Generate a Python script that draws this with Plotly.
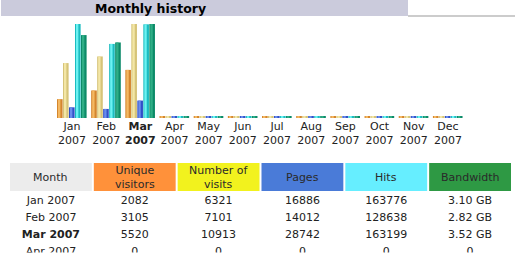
import plotly.graph_objects as go

# ---------------- data ----------------
months = ["Jan", "Feb", "Mar", "Apr", "May", "Jun", "Jul", "Aug", "Sep", "Oct", "Nov", "Dec"]
year = "2007"
current_month = "Mar"
unique_visitors = [2082, 3105, 5520, 0, 0, 0, 0, 0, 0, 0, 0, 0]
visits = [6321, 7101, 10913, 0, 0, 0, 0, 0, 0, 0, 0, 0]
pages = [16886, 14012, 28742, 0, 0, 0, 0, 0, 0, 0, 0, 0]
hits = [163776, 128638, 163199, 0, 0, 0, 0, 0, 0, 0, 0, 0]
bandwidth_gb = [3.10, 2.82, 3.52, 0, 0, 0, 0, 0, 0, 0, 0, 0]
table_headers = ["Month", "Unique<br>visitors", "Number of<br>visits", "Pages", "Hits", "Bandwidth"]

W, H = 530, 259
FONT = "DejaVu Sans"

def px_x(p):
    return p / W

def px_y(p):
    return 1 - p / H

fig = go.Figure()

# bar series: (values, axis, base colour, highlight colour)
series = [
    (unique_visitors, "y", "#d4862e", "#f4b862"),
    (visits, "y", "#d6c479", "#f3e6a6"),
    (pages, "y2", "#3050c8", "#6a8cec"),
    (hits, "y2", "#1cbcc0", "#6cf2f2"),
    (bandwidth_gb, "y3", "#0c8a68", "#2fae86"),
]
axis_max = {"y": max(visits), "y2": max(hits), "y3": max(bandwidth_gb)}
eps_frac = 0.012

step = 0.1755
start = -0.439
bw = 0.165
x_cats = list(range(len(months)))
for i, (vals, ax, c_dark, c_light) in enumerate(series):
    base = -axis_max[ax] * eps_frac
    off = start + i * step
    fig.add_trace(go.Bar(x=x_cats, y=[v - base for v in vals], base=base, xaxis="x", yaxis=ax,
                         offset=off, width=bw, marker=dict(color=c_dark, line=dict(width=0)),
                         showlegend=False, hoverinfo="skip"))
    fig.add_trace(go.Bar(x=x_cats, y=[v - base for v in vals], base=base, xaxis="x", yaxis=ax,
                         offset=off + 0.03, width=bw * 0.42, marker=dict(color=c_light, line=dict(width=0)),
                         showlegend=False, hoverinfo="skip"))

ticktext = []
for m in months:
    t = f"{m}<br>{year}"
    if m == current_month:
        t = f"<b>{t}</b>"
    ticktext.append(t)

# ---------------- table ----------------
month_cells = []
for m in months:
    t = f"{m} {year}"
    month_cells.append(f"<b>{t}</b>" if m == current_month else t)
bw_cells = [f"{v:.2f} GB" if v else "0" for v in bandwidth_gb]
columns = [month_cells, [str(v) for v in unique_visitors], [str(v) for v in visits],
           [str(v) for v in pages], [str(v) for v in hits], bw_cells]
header_fills = ["#ececec", "#ff913a", "#f2f21e", "#4a7bd8", "#66eeff", "#2e9944"]

tbl_x0, tbl_x1 = 9.0, 512.0
ncol = len(table_headers)
pitch = (tbl_x1 - tbl_x0) / ncol
hdr_top, hdr_bot = 163.0, 191.0
row_h = 17.2
first_row_center = 201.0
rows = list(range(len(months)))

for ci, col in enumerate(columns):
    fig.add_trace(go.Scatter(x=[ci] * len(col), y=rows, text=col, mode="text",
                             textposition="middle center", xaxis="x2", yaxis="y4",
                             textfont=dict(family=FONT, size=11, color="#222222"),
                             cliponaxis=True, showlegend=False, hoverinfo="skip"))

shapes = [
    dict(type="rect", xref="paper", yref="paper", x0=px_x(1), x1=px_x(408), y0=px_y(16), y1=1,
         fillcolor="#cbcbdc", line=dict(width=0), layer="below"),
    dict(type="rect", xref="paper", yref="paper", x0=px_x(408), x1=px_x(515), y0=px_y(17), y1=px_y(15),
         fillcolor="#cccccc", line=dict(width=0), layer="below"),
]
annotations = [
    dict(text="<b>Monthly history</b>", xref="paper", yref="paper", x=px_x(150), y=px_y(8),
         showarrow=False, xanchor="center", yanchor="middle",
         font=dict(family=FONT, size=12.5, color="#000000")),
]
for i, (label, fillc) in enumerate(zip(table_headers, header_fills)):
    cx0 = tbl_x0 + i * pitch + 1
    cx1 = tbl_x0 + (i + 1) * pitch - 1
    shapes.append(dict(type="rect", xref="paper", yref="paper", x0=px_x(cx0), x1=px_x(cx1),
                       y0=px_y(hdr_bot), y1=px_y(hdr_top), fillcolor=fillc, line=dict(width=0)))
    annotations.append(dict(text=label, xref="paper", yref="paper", x=px_x((cx0 + cx1) / 2),
                            y=px_y((hdr_top + hdr_bot) / 2), showarrow=False,
                            xanchor="center", yanchor="middle", align="center",
                            font=dict(family=FONT, size=11, color="#2a2a2a")))

# the visible table body ends partway through the fourth row (as in the reference)
body_top = hdr_bot
body_bottom = 252.5
body_px = body_bottom - body_top
r_top = -(first_row_center - body_top) / row_h
r_bot = r_top + body_px / row_h

dom_y = [px_y(118), px_y(24)]
fig.update_layout(
    width=W, height=H, margin=dict(l=0, r=0, t=0, b=0),
    paper_bgcolor="white", plot_bgcolor="rgba(0,0,0,0)",
    barmode="overlay", showlegend=False,
    font=dict(family=FONT, size=11, color="#222222"),
    xaxis=dict(domain=[px_x(54.9), px_x(465)], range=[-0.5, 11.5], anchor="y",
               tickmode="array", tickvals=x_cats, ticktext=ticktext,
               showgrid=False, zeroline=False, showline=False, ticks="",
               tickfont=dict(family=FONT, size=11, color="#222222")),
    yaxis=dict(domain=dom_y, range=[-axis_max["y"] * eps_frac, axis_max["y"]], visible=False),
    yaxis2=dict(domain=dom_y, range=[-axis_max["y2"] * eps_frac, axis_max["y2"]], overlaying="y", visible=False),
    yaxis3=dict(domain=dom_y, range=[-axis_max["y3"] * eps_frac, axis_max["y3"]], overlaying="y", visible=False),
    xaxis2=dict(domain=[px_x(tbl_x0), px_x(tbl_x1)], range=[-0.5, ncol - 0.5], anchor="y4", visible=False),
    yaxis4=dict(domain=[px_y(body_bottom), px_y(body_top)], range=[r_bot, r_top], anchor="x2", visible=False),
    shapes=shapes,
    annotations=annotations,
)

fig.write_html("out.html")
